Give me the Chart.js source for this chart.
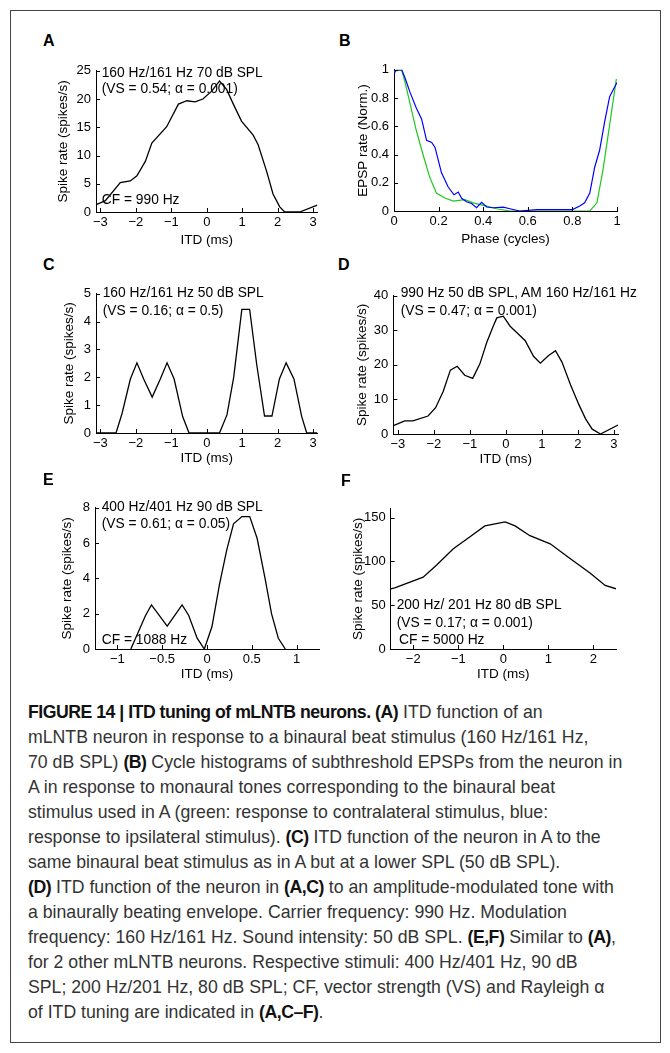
<!DOCTYPE html>
<html>
<head>
<meta charset="utf-8">
<script src="https://cdn.jsdelivr.net/npm/chart.js@4.4.0/dist/chart.umd.min.js"></script>
<style>
  body { margin: 0; background: #fff; }
  #page { position: relative; width: 670px; height: 1053px; overflow: hidden; font-family: "Liberation Sans", Arial, sans-serif; }
  #frame { position: absolute; left: 10px; top: 10px; width: 651px; height: 1033px; border: 1px solid #444; box-sizing: border-box; }
  canvas { position: absolute; }
  .lbl { position: absolute; font: bold 16px "Liberation Sans", Arial, sans-serif; line-height: 20px; color: #000; }
  .note { position: absolute; font: 13.8px "Liberation Sans", Arial, sans-serif; line-height: 16px; color: #000; white-space: nowrap; }
  .cap { position: absolute; left: 28px; font: 17.7px "Liberation Sans", Arial, sans-serif; line-height: 22px; color: #333; white-space: nowrap; }
  .cap b { color: #111; letter-spacing: -0.5px; }
</style>
</head>
<body>
<div id="page">
  <div id="frame"></div>
</div>
<script>
// panel A: ITD function, 160/161 Hz 70 dB SPL
const aItd = [-3.12, -2.86, -2.44, -2.16, -1.97, -1.73, -1.55, -1.13, -0.80, -0.56, -0.33, -0.11, 0.14, 0.36, 0.56, 0.75, 0.98, 1.31, 1.45, 1.69, 1.87, 2.06, 2.2, 2.62, 3.12];
const aRate = [1.3, 2.0, 5.2, 5.5, 6.4, 9.0, 12.2, 15.1, 19.1, 19.7, 19.5, 20.0, 21.4, 23.2, 21.7, 19.1, 16.1, 13.6, 11.9, 7.2, 3.2, 0.9, 0, 0, 1.2];

// panel B: cycle histograms (blue = ipsi, green = contra)
const bPhaseBlue = [0, 0.01, 0.035, 0.05, 0.072, 0.10, 0.124, 0.146, 0.169, 0.184, 0.213, 0.243, 0.269, 0.288, 0.303, 0.325, 0.348, 0.37, 0.393, 0.415, 0.445, 0.49, 0.52, 0.564, 0.64, 0.73, 0.80, 0.833, 0.855, 0.878, 0.90, 0.922, 0.945, 0.967, 1.0];
const bBlue = [0.97, 1.0, 1.0, 0.94, 0.84, 0.73, 0.65, 0.50, 0.485, 0.45, 0.27, 0.17, 0.115, 0.134, 0.09, 0.065, 0.053, 0.023, 0.062, 0.028, 0.023, 0.028, 0.016, 0, 0.01, 0.01, 0.01, 0.035, 0.058, 0.127, 0.31, 0.43, 0.635, 0.81, 0.91];
const bPhaseGreen = [0, 0.034, 0.05, 0.072, 0.10, 0.13, 0.16, 0.19, 0.228, 0.266, 0.318, 0.355, 0.415, 0.46, 0.52, 0.878, 0.91, 0.937, 0.967, 0.997];
const bGreen = [0.99, 1.0, 0.91, 0.76, 0.57, 0.40, 0.24, 0.127, 0.092, 0.07, 0.08, 0.058, 0.035, 0.016, 0, 0, 0.058, 0.29, 0.61, 0.935];

// panel C: same neuron, 50 dB SPL
const cItd = [-3.12, -2.56, -2.39, -2.155, -1.97, -1.78, -1.54, -1.31, -1.12, -0.92, -0.68, -0.5, 0.36, 0.57, 0.76, 0.99, 1.21, 1.41, 1.63, 1.84, 2.05, 2.24, 2.46, 2.68, 2.82, 3.12];
const cRate = [0, 0, 0.7, 1.94, 2.52, 1.94, 1.29, 1.94, 2.52, 1.94, 0.59, 0, 0, 0.65, 2.0, 4.44, 4.44, 2.46, 0.61, 0.61, 1.94, 2.52, 1.94, 0.59, 0, 0];

// panel D: AM tone with binaurally beating envelope
const dItd = [-3.12, -2.81, -2.58, -2.16, -1.95, -1.74, -1.54, -1.35, -1.14, -0.92, -0.72, -0.53, -0.35, -0.25, -0.07, 0.12, 0.31, 0.54, 0.77, 0.96, 1.19, 1.38, 1.56, 1.8, 2.03, 2.22, 2.4, 2.63, 3.12];
const dRate = [2.4, 3.8, 3.8, 5.2, 7.6, 12.3, 18.5, 19.6, 17, 16.1, 20.3, 26.5, 31.2, 33.6, 34.1, 31.2, 29.3, 27, 22.5, 20.5, 22.7, 24.1, 20.8, 14.2, 8.5, 4.3, 1.4, 0, 2.6];

// panel E: 400/401 Hz 90 dB SPL
const eItd = [-0.85, -0.686, -0.62, -0.444, -0.278, -0.204, -0.11, -0.03, 0.055, 0.14, 0.22, 0.296, 0.39, 0.477, 0.56, 0.65, 0.72, 0.796, 0.874];
const eRate = [0, 1.9, 2.5, 1.29, 2.5, 1.9, 0.61, 0, 1.26, 3.67, 5.6, 7.09, 7.5, 7.5, 6.26, 3.94, 2.0, 0.61, 0];

// panel F: 200/201 Hz 80 dB SPL
const fItd = [-2.5, -2.41, -1.78, -1.48, -1.11, -0.74, -0.41, 0.04, 0.26, 0.59, 1.04, 1.48, 1.93, 2.26, 2.5];
const fRate = [68.7, 69.8, 82, 95.9, 114.4, 128.2, 140.5, 145, 140.5, 129.3, 120, 103.2, 86.5, 72.5, 68.7];

// tick labels
const itdTicks3 = [-3, -2, -1, 0, 1, 2, 3];
const itdTicksE = [-1, -0.5, 0, 0.5, 1];
const itdTicksF = [-2, -1, 0, 1, 2];
const phaseTicks = [0, 0.2, 0.4, 0.6, 0.8, 1];
const aTicksY = [0, 5, 10, 15, 20, 25];
const bTicksY = [0, 0.2, 0.4, 0.6, 0.8, 1];
const cTicksY = [0, 1, 2, 3, 4, 5];
const dTicksY = [0, 10, 20, 30, 40];
const eTicksY = [0, 2, 4, 6, 8];
const fTicksY = [0, 50, 100, 150];

const FONT = '"Liberation Sans", Arial, sans-serif';
const page = document.getElementById('page');

function pts(xs, ys) {
    return xs.map((x, i) => ({ x: x, y: ys[i] }));
}

function fmt(v) {
    if (v === 0) return '0';
    return v < 0 ? '\u2212' + Math.abs(v) : String(v);
}

// MATLAB-style ticks pointing into the plot
const inwardTicks = {
    id: 'inwardTicks',
    afterDraw(chart) {
        const { ctx, chartArea, scales } = chart;
        ctx.save();
        ctx.strokeStyle = '#000';
        ctx.lineWidth = 1;
        ctx.beginPath();
        scales.x.ticks.forEach(t => {
            const px = Math.round(scales.x.getPixelForValue(t.value)) + 0.5;
            ctx.moveTo(px, chartArea.bottom);
            ctx.lineTo(px, chartArea.bottom - 4);
        });
        scales.y.ticks.forEach(t => {
            const py = Math.round(scales.y.getPixelForValue(t.value)) + 0.5;
            ctx.moveTo(chartArea.left, py);
            ctx.lineTo(chartArea.left + 4, py);
        });
        ctx.stroke();
        ctx.restore();
    }
};

function panel(p) {
    const padTop = 10, axisH = 40;
    const yW = p.areaLeft - p.left;
    const right = p.left + p.width - p.areaRight;
    const top = p.areaTop - padTop;
    const height = padTop + (p.areaBottom - p.areaTop) + axisH;
    const canvas = document.createElement('canvas');
    canvas.width = p.width;
    canvas.height = Math.round(height);
    canvas.style.left = p.left + 'px';
    canvas.style.top = top + 'px';
    page.appendChild(canvas);

    new Chart(canvas.getContext('2d'), {
        type: 'line',
        data: { datasets: p.datasets },
        plugins: [inwardTicks],
        options: {
            responsive: false,
            animation: false,
            layout: { padding: { top: padTop, right: right, left: 0, bottom: 0 } },
            plugins: { legend: { display: false }, tooltip: { enabled: false } },
            elements: { point: { radius: 0 }, line: { tension: 0 } },
            scales: {
                x: {
                    type: 'linear',
                    min: p.xMin,
                    max: p.xMax,
                    afterBuildTicks: s => { s.ticks = p.xTicks.map(v => ({ value: v })); },
                    afterFit: s => { s.height = axisH; },
                    grid: { display: false, drawTicks: false },
                    border: { display: true, color: '#000', width: 1 },
                    ticks: { color: '#000', padding: 2.5, maxRotation: 0, font: { family: FONT, size: 13 }, callback: v => fmt(v) },
                    title: { display: true, text: p.xTitle, color: '#000', font: { family: FONT, size: 13.5 }, padding: { top: 0, bottom: p.xTitlePad } }
                },
                y: {
                    type: 'linear',
                    min: p.yMin,
                    max: p.yMax,
                    afterBuildTicks: s => { s.ticks = p.yTicks.map(v => ({ value: v })); },
                    afterFit: s => { s.width = yW; },
                    grid: { display: false, drawTicks: false },
                    border: { display: true, color: '#000', width: 1 },
                    ticks: { color: '#000', padding: 5, font: { family: FONT, size: 13 }, callback: v => fmt(v) },
                    title: { display: true, text: p.yTitle, color: '#000', font: { family: FONT, size: 13.5 }, padding: { top: p.yTitlePad, bottom: 0 } }
                }
            }
        }
    });
}

function blackLine(xs, ys) {
    return { data: pts(xs, ys), borderColor: '#000', borderWidth: 1.3, fill: false };
}

document.addEventListener('DOMContentLoaded', function () {
    panel({
        left: 20, width: 310, areaLeft: 96, areaRight: 317.5, areaTop: 68, areaBottom: 211.7,
        xMin: -3.125, xMax: 3.125, xTicks: itdTicks3, yMin: 0, yMax: 25, yTicks: aTicksY,
        xTitle: 'ITD (ms)', yTitle: 'Spike rate (spikes/s)', xTitlePad: 3.4, yTitlePad: 35,
        datasets: [blackLine(aItd, aRate)]
    });
    panel({
        left: 330, width: 330, areaLeft: 394, areaRight: 617, areaTop: 67.3, areaBottom: 211.7,
        xMin: 0, xMax: 1, xTicks: phaseTicks, yMin: 0, yMax: 1, yTicks: bTicksY,
        xTitle: 'Phase (cycles)', yTitle: 'EPSP rate (Norm.)', xTitlePad: 3.4, yTitlePad: 25,
        datasets: [
            { data: pts(bPhaseBlue, bBlue), borderColor: '#0000ff', borderWidth: 1.2, fill: false },
            { data: pts(bPhaseGreen, bGreen), borderColor: '#1ec81e', borderWidth: 1.2, fill: false }
        ]
    });
    panel({
        left: 20, width: 310, areaLeft: 96, areaRight: 317.5, areaTop: 291, areaBottom: 433.3,
        xMin: -3.125, xMax: 3.125, xTicks: itdTicks3, yMin: 0, yMax: 5, yTicks: cTicksY,
        xTitle: 'ITD (ms)', yTitle: 'Spike rate (spikes/s)', xTitlePad: 7, yTitlePad: 41,
        datasets: [blackLine(cItd, cRate)]
    });
    panel({
        left: 330, width: 330, areaLeft: 393.3, areaRight: 618.3, areaTop: 292.7, areaBottom: 433.3,
        xMin: -3.125, xMax: 3.125, xTicks: itdTicks3, yMin: 0, yMax: 40, yTicks: dTicksY,
        xTitle: 'ITD (ms)', yTitle: 'Spike rate (spikes/s)', xTitlePad: 7, yTitlePad: 23.7,
        datasets: [blackLine(dItd, dRate)]
    });
    panel({
        left: 20, width: 310, areaLeft: 95, areaRight: 319, areaTop: 505.3, areaBottom: 649.3,
        xMin: -1.25, xMax: 1.25, xTicks: itdTicksE, yMin: 0, yMax: 8, yTicks: eTicksY,
        xTitle: 'ITD (ms)', yTitle: 'Spike rate (spikes/s)', xTitlePad: 7, yTitlePad: 38.7,
        datasets: [blackLine(eItd, eRate)]
    });
    panel({
        left: 330, width: 330, areaLeft: 390.7, areaRight: 616, areaTop: 505.8, areaBottom: 649.3,
        xMin: -2.5, xMax: 2.5, xTicks: itdTicksF, yMin: 0, yMax: 160, yTicks: fTicksY,
        xTitle: 'ITD (ms)', yTitle: 'Spike rate (spikes/s)', xTitlePad: 7, yTitlePad: 20,
        datasets: [blackLine(fItd, fRate)]
    });

    // panel letters
    [['A', 43, 41], ['B', 339, 41], ['C', 43, 265], ['D', 338, 265], ['E', 43, 480], ['F', 341, 481]].forEach(l => {
        const s = document.createElement('div');
        s.className = 'lbl';
        s.textContent = l[0];
        s.style.left = l[1] + 'px';
        s.style.top = (l[2] - 10) + 'px';
        page.appendChild(s);
    });

    // stimulus notes inside the panels
    [
        ['160 Hz/161 Hz 70 dB SPL', 101.7, 73.3],
        ['(VS = 0.54; \u03b1 = 0.001)', 101.7, 89],
        ['CF = 990 Hz', 101.7, 200],
        ['160 Hz/161 Hz 50 dB SPL', 102.7, 293.3],
        ['(VS = 0.16; \u03b1 = 0.5)', 102.7, 310.7],
        ['990 Hz 50 dB SPL, AM 160 Hz/161 Hz', 400.7, 293],
        ['(VS = 0.47; \u03b1 = 0.001)', 400.7, 311],
        ['400 Hz/401 Hz 90 dB SPL', 101.7, 506.7],
        ['(VS = 0.61; \u03b1 = 0.05)', 101.7, 524.3],
        ['CF = 1088 Hz', 101.7, 640],
        ['200 Hz/ 201 Hz 80 dB SPL', 396.7, 605],
        ['(VS = 0.17; \u03b1 = 0.001)', 396.7, 622.7],
        ['CF = 5000 Hz', 399, 640]
    ].forEach(n => {
        const s = document.createElement('div');
        s.className = 'note';
        s.textContent = n[0];
        s.style.left = n[1] + 'px';
        s.style.top = (n[2] - 8) + 'px';
        page.appendChild(s);
    });

    // caption
    const caption = [
        '<b>FIGURE 14 | ITD tuning of mLNTB neurons. (A)</b> ITD function of an',
        'mLNTB neuron in response to a binaural beat stimulus (160 Hz/161 Hz,',
        '70 dB SPL) <b>(B)</b> Cycle histograms of subthreshold EPSPs from the neuron in',
        'A in response to monaural tones corresponding to the binaural beat',
        'stimulus used in A (green: response to contralateral stimulus, blue:',
        'response to ipsilateral stimulus). <b>(C)</b> ITD function of the neuron in A to the',
        'same binaural beat stimulus as in A but at a lower SPL (50 dB SPL).',
        '<b>(D)</b> ITD function of the neuron in <b>(A,C)</b> to an amplitude-modulated tone with',
        'a binaurally beating envelope. Carrier frequency: 990 Hz. Modulation',
        'frequency: 160 Hz/161 Hz. Sound intensity: 50 dB SPL. <b>(E,F)</b> Similar to <b>(A)</b>,',
        'for 2 other mLNTB neurons. Respective stimuli: 400 Hz/401 Hz, 90 dB',
        'SPL; 200 Hz/201 Hz, 80 dB SPL; CF, vector strength (VS) and Rayleigh \u03b1',
        'of ITD tuning are indicated in <b>(A,C\u2013F)</b>.'
    ];
    caption.forEach((line, i) => {
        const d = document.createElement('div');
        d.className = 'cap';
        d.innerHTML = line;
        d.style.top = (712 + 25 * i - 11) + 'px';
        page.appendChild(d);
    });
});
</script>
</body>
</html>
